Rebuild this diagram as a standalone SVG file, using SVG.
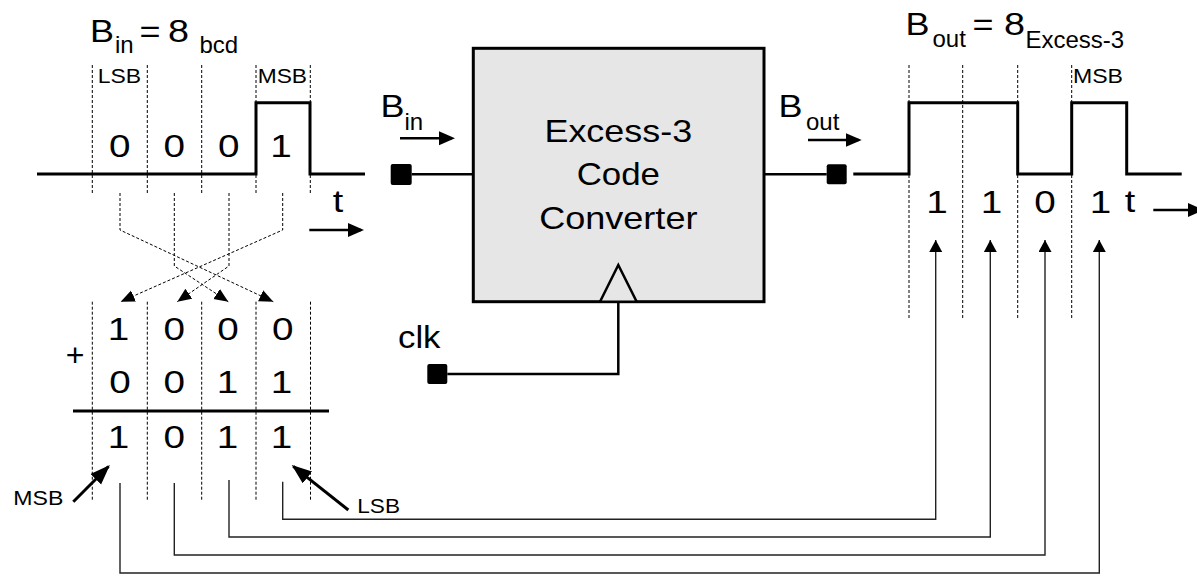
<svg xmlns="http://www.w3.org/2000/svg" width="1197" height="576" viewBox="0 0 1197 576">
<style>
.t{font-family:"Liberation Sans",Arial,sans-serif;fill:#000}
.big{font-size:32px}
.sub{font-size:24px}
.lbl{font-size:21px}
.mid{text-anchor:middle}
.dash{stroke:#000;stroke-width:1;stroke-dasharray:3 2;fill:none}
.wave{stroke:#000;stroke-width:3;fill:none;stroke-linejoin:miter}
.wire{stroke:#000;stroke-width:2.5;fill:none}
.conn{stroke:#222;stroke-width:1.4;fill:none}
.thick{stroke:#000;stroke-width:3;fill:none}
.port{fill:#000}
</style>
<defs>
<marker id="sig" markerUnits="userSpaceOnUse" markerWidth="17" markerHeight="15" refX="13" refY="7" orient="auto"><path d="M0,0 L16,7 L0,14 z" fill="#000"/></marker>
<marker id="up" markerUnits="userSpaceOnUse" markerWidth="13" markerHeight="14" refX="12" refY="6.5" orient="auto"><path d="M0,0 L12,6.5 L0,13 z" fill="#000"/></marker>
<marker id="dsh" markerUnits="userSpaceOnUse" markerWidth="15" markerHeight="13" refX="14" refY="6" orient="auto"><path d="M0,0 L14,6 L0,12 z" fill="#000"/></marker>
<marker id="big" markerUnits="userSpaceOnUse" markerWidth="21" markerHeight="16" refX="18" refY="7.5" orient="auto"><path d="M0,0 L20,7.5 L0,15 z" fill="#000"/></marker>
</defs>
<rect width="1197" height="576" fill="#fff"/>

<!-- input waveform -->
<g id="input-wave">
<text class="t big" x="90" y="41.7" textLength="24" lengthAdjust="spacingAndGlyphs">B</text>
<text class="t sub" x="115" y="52.7">in</text>
<text class="t big" x="139.5" y="41.7" textLength="21" lengthAdjust="spacingAndGlyphs">=</text>
<text class="t big" x="168" y="41.7" textLength="21" lengthAdjust="spacingAndGlyphs">8</text>
<text class="t sub" x="199.5" y="52.7">bcd</text>
<text class="t lbl" x="97.7" y="83" textLength="43.3" lengthAdjust="spacingAndGlyphs">LSB</text>
<text class="t lbl" x="257.7" y="83" textLength="49.3" lengthAdjust="spacingAndGlyphs">MSB</text>
<path class="dash" d="M92.3,65 V195 M147.3,65 V195 M201.7,65 V195 M256,65 V195 M310.3,65 V195"/>
<path class="wave" d="M37,174 H256 V102.7 H310 V174 H365"/>
<text class="t big mid" x="119.7" y="157" textLength="21.5" lengthAdjust="spacingAndGlyphs">0</text>
<text class="t big mid" x="174.3" y="157" textLength="21.5" lengthAdjust="spacingAndGlyphs">0</text>
<text class="t big mid" x="228.8" y="157" textLength="21.5" lengthAdjust="spacingAndGlyphs">0</text>
<text class="t big mid" x="281" y="157" textLength="21.5" lengthAdjust="spacingAndGlyphs">1</text>
<text class="t big mid" x="338" y="211.7" textLength="10.5" lengthAdjust="spacingAndGlyphs">t</text>
<path class="wire" d="M309.3,230 H361" marker-end="url(#sig)"/>
</g>

<!-- addition table -->
<g id="adder">
<path class="dash" d="M92.3,301.7 V501.7 M147.3,301.7 V501.7 M201.7,301.7 V501.7 M256,301.7 V501.7 M310.5,301.7 V501.7"/>
<text class="t big mid" x="118.5" y="340" textLength="21.5" lengthAdjust="spacingAndGlyphs">1</text>
<text class="t big mid" x="174.3" y="340" textLength="21.5" lengthAdjust="spacingAndGlyphs">0</text>
<text class="t big mid" x="228" y="340" textLength="21.5" lengthAdjust="spacingAndGlyphs">0</text>
<text class="t big mid" x="282.7" y="340" textLength="21.5" lengthAdjust="spacingAndGlyphs">0</text>
<text class="t big mid" x="75" y="366">+</text>
<text class="t big mid" x="120" y="393" textLength="21.5" lengthAdjust="spacingAndGlyphs">0</text>
<text class="t big mid" x="174.3" y="393" textLength="21.5" lengthAdjust="spacingAndGlyphs">0</text>
<text class="t big mid" x="227.5" y="393" textLength="21.5" lengthAdjust="spacingAndGlyphs">1</text>
<text class="t big mid" x="281.5" y="393" textLength="21.5" lengthAdjust="spacingAndGlyphs">1</text>
<path class="thick" d="M73,411 H329"/>
<text class="t big mid" x="118.5" y="448.3" textLength="21.5" lengthAdjust="spacingAndGlyphs">1</text>
<text class="t big mid" x="174.3" y="448.3" textLength="21.5" lengthAdjust="spacingAndGlyphs">0</text>
<text class="t big mid" x="227.5" y="448.3" textLength="21.5" lengthAdjust="spacingAndGlyphs">1</text>
<text class="t big mid" x="281.5" y="448.3" textLength="21.5" lengthAdjust="spacingAndGlyphs">1</text>
<text class="t lbl" x="13.3" y="505" textLength="50" lengthAdjust="spacingAndGlyphs">MSB</text>
<text class="t lbl" x="357.3" y="513.3" textLength="42.7" lengthAdjust="spacingAndGlyphs">LSB</text>
<path class="thick" d="M73.3,501.7 L108.5,466.5" marker-end="url(#big)"/>
<path class="thick" d="M348.3,510 L293.3,466.3" marker-end="url(#big)"/>
</g>

<!-- converter block -->
<g id="converter">
<rect x="473.3" y="48.3" width="290.7" height="253.4" fill="#e6e6e6" stroke="#000" stroke-width="3"/>
<polygon points="600,301.7 618.3,265 636.7,301.7" fill="#e6e6e6" stroke="#000" stroke-width="2.5" stroke-linejoin="miter"/>
<text class="t big mid" x="618.3" y="141.7" textLength="147.7" lengthAdjust="spacingAndGlyphs">Excess-3</text>
<text class="t big mid" x="618.3" y="185" textLength="83.3" lengthAdjust="spacingAndGlyphs">Code</text>
<text class="t big mid" x="618.3" y="229.3" textLength="158.3" lengthAdjust="spacingAndGlyphs">Converter</text>
</g>

<!-- input port -->
<g id="port-in">
<rect class="port" x="390.7" y="164" width="21" height="21" rx="2"/>
<text class="t big" x="380.5" y="116.7" textLength="24" lengthAdjust="spacingAndGlyphs">B</text>
<text class="t sub" x="404.5" y="130">in</text>
<path class="wire" d="M400,138.3 H452" marker-end="url(#sig)"/>
</g>

<!-- clock port -->
<g id="port-clk">
<rect class="port" x="427.3" y="364" width="20" height="20" rx="2"/>
<text class="t big" x="398" y="348.3" textLength="42.5" lengthAdjust="spacingAndGlyphs">clk</text>
</g>

<!-- output port -->
<g id="port-out">
<rect class="port" x="826.7" y="164.3" width="20" height="20" rx="2"/>
<text class="t big" x="778.5" y="116.7" textLength="24" lengthAdjust="spacingAndGlyphs">B</text>
<text class="t sub" x="806" y="130">out</text>
<path class="wire" d="M808,140 H858.7" marker-end="url(#sig)"/>
</g>

<!-- output waveform -->
<g id="output-wave">
<text class="t big" x="905.5" y="35" textLength="24" lengthAdjust="spacingAndGlyphs">B</text>
<text class="t sub" x="932.5" y="46.7">out</text>
<text class="t big" x="972.5" y="35" textLength="21" lengthAdjust="spacingAndGlyphs">=</text>
<text class="t big" x="1004" y="35" textLength="21" lengthAdjust="spacingAndGlyphs">8</text>
<text class="t sub" x="1025.5" y="48.3">Excess-3</text>
<text class="t lbl" x="1073" y="83" textLength="50" lengthAdjust="spacingAndGlyphs">MSB</text>
<path class="dash" d="M909,65 V318.3 M962.7,65 V318.3 M1017.7,65 V318.3 M1071.7,65 V318.3"/>
<path class="wave" d="M853.3,174 H909 V102.7 H1017.7 V174 H1071.7 V102.7 H1126.7 V174 H1181.7"/>
<text class="t big mid" x="937" y="212.7" textLength="21.5" lengthAdjust="spacingAndGlyphs">1</text>
<text class="t big mid" x="991.6" y="212.7" textLength="21.5" lengthAdjust="spacingAndGlyphs">1</text>
<text class="t big mid" x="1045" y="212.7" textLength="21.5" lengthAdjust="spacingAndGlyphs">0</text>
<text class="t big mid" x="1100.6" y="212.7" textLength="21.5" lengthAdjust="spacingAndGlyphs">1</text>
<text class="t big mid" x="1130" y="211.7" textLength="10.5" lengthAdjust="spacingAndGlyphs">t</text>
<path class="wire" d="M1153.3,210 H1201" marker-end="url(#sig)"/>
</g>

<!-- connectors -->
<g id="connectors">
<path class="wire" d="M411.7,174.3 H473.3"/>
<path class="wire" d="M764,174.3 H826.7"/>
<path class="wire" d="M618.3,301.7 V374 H447.3"/>
<path class="dash" d="M282.7,193 V230 L120.7,301.7" marker-end="url(#dsh)"/>
<path class="dash" d="M229,193 V266 L177.3,301.7" marker-end="url(#dsh)"/>
<path class="dash" d="M174.3,193 V266 L228.3,301.7" marker-end="url(#dsh)"/>
<path class="dash" d="M120,193 V230 L273.3,301.7" marker-end="url(#dsh)"/>
<path class="conn" d="M282.7,481.7 V519.3 H935.7 V240" marker-end="url(#up)"/>
<path class="conn" d="M229,480 V537 H990.3 V240" marker-end="url(#up)"/>
<path class="conn" d="M174.3,483 V555 H1045 V240" marker-end="url(#up)"/>
<path class="conn" d="M120,483 V573 H1099.3 V240" marker-end="url(#up)"/>
</g>
</svg>
